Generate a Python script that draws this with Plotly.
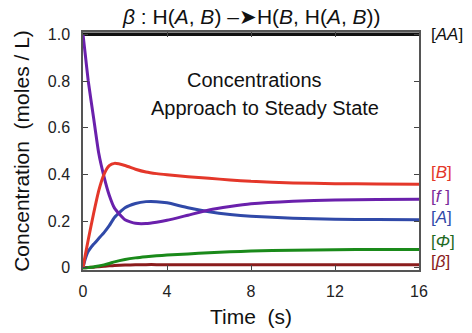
import plotly.graph_objects as go

# ---- data ----
time_s = [0, 0.1, 0.25, 0.5, 0.75, 1.0, 1.25, 1.5, 2.0, 2.5, 3.0, 3.5, 4, 5, 6, 7, 8, 10, 12, 14, 16]
conc_AA = [1.0] * len(time_s)
conc_B = [0, 0.05, 0.12, 0.23, 0.33, 0.40, 0.437, 0.447, 0.438, 0.422, 0.41, 0.403, 0.398, 0.39, 0.383, 0.376, 0.37, 0.363, 0.36, 0.359, 0.358]
conc_f = [1.0, 0.92, 0.80, 0.645, 0.49, 0.39, 0.31, 0.255, 0.205, 0.19, 0.189, 0.195, 0.203, 0.225, 0.247, 0.262, 0.274, 0.285, 0.29, 0.292, 0.293]
conc_A = [0, 0.035, 0.07, 0.10, 0.125, 0.15, 0.18, 0.215, 0.257, 0.275, 0.283, 0.283, 0.278, 0.257, 0.24, 0.228, 0.22, 0.212, 0.208, 0.206, 0.205]
conc_Phi = [0, 0.0, 0.001, 0.003, 0.007, 0.012, 0.018, 0.025, 0.035, 0.042, 0.047, 0.051, 0.054, 0.059, 0.064, 0.068, 0.071, 0.075, 0.077, 0.078, 0.078]
conc_beta = [0, 0, 0.001, 0.002, 0.004, 0.006, 0.008, 0.009, 0.011, 0.012, 0.013, 0.013, 0.013, 0.013, 0.013, 0.013, 0.013, 0.013, 0.013, 0.013, 0.013]

x_ticks = [0, 4, 8, 12, 16]
y_ticks = [0, 0.2, 0.4, 0.6, 0.8, 1.0]
y_ticktext = ["0", "0.2", "0.4", "0.6", "0.8", "1.0"]

series = [
    ("[<i>AA</i>]", conc_AA, "#111111", "#111111", 1.0),
    ("[<i>β</i>]", conc_beta, "#8b1c1c", "#8b1c1c", 0.028),
    ("[<i>Φ</i>]", conc_Phi, "#1a8a1a", "#1f6a1f", 0.113),
    ("[<i>A</i>]", conc_A, "#3049a8", "#3049a8", 0.214),
    ("[<i>f</i> ]", conc_f, "#6a20ac", "#7a2a9a", 0.303),
    ("[<i>B</i>]", conc_B, "#e4372a", "#e4372a", 0.406),
]

FONT = "Arial, Liberation Sans, sans-serif"

fig = go.Figure()
for name, vals, col, lcol, ylab in series:
    fig.add_trace(go.Scatter(
        x=time_s, y=vals, mode="lines", name=name,
        line=dict(color=col, width=3.5 if name.startswith("[<i>AA") else 3, shape="spline", smoothing=0.5),
        showlegend=False, hoverinfo="skip",
    ))
    fig.add_annotation(
        x=1, xref="paper", y=ylab, yref="y", xanchor="left", yanchor="middle",
        xshift=10, text=name, showarrow=False,
        font=dict(family=FONT, size=17, color=lcol),
    )

fig.add_annotation(
    x=0.5, xref="paper", y=1, yref="paper", yanchor="bottom", yshift=2,
    text="<i>β</i> : H(<i>A</i>, <i>B</i>) –➤H(<i>B</i>, H(<i>A</i>, <i>B</i>))",
    showarrow=False, font=dict(family=FONT, size=21, color="#111111"),
)
fig.add_annotation(
    x=8.19, y=0.803, xref="x", yref="y", showarrow=False,
    text="Concentrations",
    font=dict(family=FONT, size=20, color="#111111"),
)
fig.add_annotation(
    x=8.67, y=0.684, xref="x", yref="y", showarrow=False,
    text="Approach to Steady State",
    font=dict(family=FONT, size=20, color="#111111"),
)

fig.update_layout(
    width=472, height=333,
    margin=dict(l=83, r=53, t=32, b=63),
    paper_bgcolor="white", plot_bgcolor="white",
    font=dict(family=FONT, size=16, color="#222222"),
    xaxis=dict(
        range=[0, 16], tickvals=x_ticks, ticks="inside", ticklen=5, tickwidth=1.2,
        tickcolor="#444", showline=True, linecolor="#555", linewidth=1.5,
        mirror="ticks", showgrid=False, zeroline=False, automargin=False,
        ticklabelstandoff=6,
        tickfont=dict(family=FONT, size=16, color="#222"),
        title=dict(text="Time  (s)", font=dict(family=FONT, size=21, color="#111"), standoff=10),
    ),
    yaxis=dict(
        range=[-0.01, 1.01], tickvals=y_ticks, ticktext=y_ticktext, ticks="inside",
        ticklen=5, tickwidth=1.2, tickcolor="#444", showline=True, linecolor="#555",
        linewidth=1.5, mirror="ticks", showgrid=False, zeroline=False, automargin=False,
        ticklabelstandoff=8,
        tickfont=dict(family=FONT, size=16, color="#222"),
        title=dict(text="Concentration  (moles / L)", font=dict(family=FONT, size=21, color="#111"), standoff=12),
    ),
)

fig.write_html(
    "out.html",
    config={"displayModeBar": False},
    post_script="document.body.style.margin='0';document.body.style.overflow='hidden';",
)
